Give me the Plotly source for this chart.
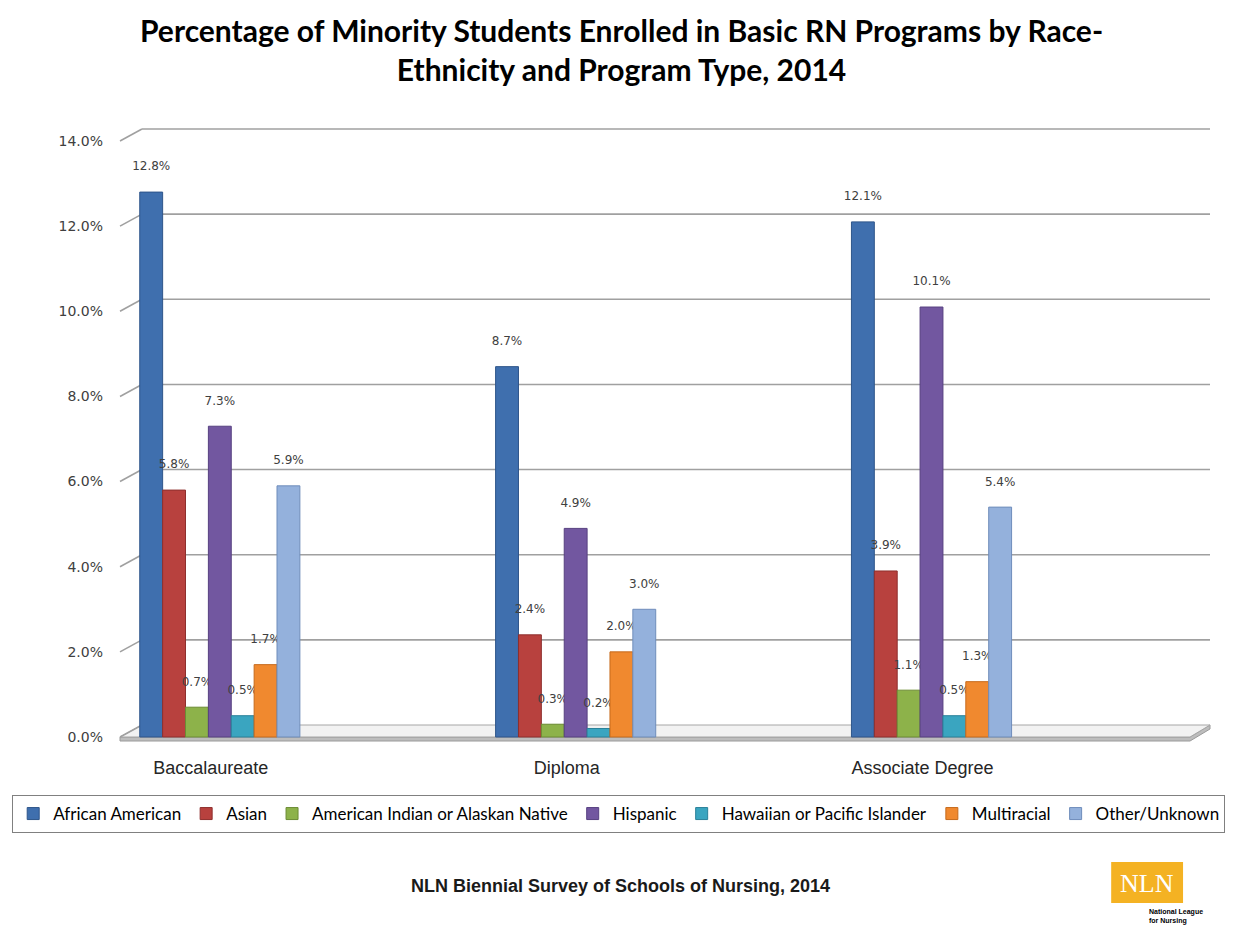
import plotly.graph_objects as go

categories = ["Baccalaureate", "Diploma", "Associate Degree"]
series_names = ["African American", "Asian", "American Indian or Alaskan Native",
                "Hispanic", "Hawaiian or Pacific Islander", "Multiracial", "Other/Unknown"]
african_american = [12.8, 8.7, 12.1]
asian = [5.8, 2.4, 3.9]
american_indian = [0.7, 0.3, 1.1]
hispanic = [7.3, 4.9, 10.1]
hawaiian = [0.5, 0.2, 0.5]
multiracial = [1.7, 2.0, 1.3]
other_unknown = [5.9, 3.0, 5.4]
series_values = [african_american, asian, american_indian, hispanic, hawaiian, multiracial, other_unknown]
colors = ["#3F6FAE", "#B8413E", "#8DB24A", "#7257A0", "#3AA5C0", "#F0892F", "#94B1DC"]
line_colors = ["#2E558A", "#8E2F2D", "#6C8C34", "#574080", "#2A8199", "#C66A1C", "#6F8DBB"]
y_ticks = [0, 2, 4, 6, 8, 10, 12, 14]
y_ticktext = [f"{v:.1f}%" for v in y_ticks]

# layout geometry (pixels)
W, H = 1241, 928
L, R, T, B = 118, 31, 120, 183
pw = W - L - R
ph = H - T - B
px_per_unit = 42.571
xscale = 356.5
x0 = -(218 - L) / xscale
x1 = x0 + pw / xscale
y0 = -(745 - 737) / px_per_unit
y1 = y0 + ph / px_per_unit

def px2paper_x(px):
    return (px - L) / pw

def px2paper_y(py):
    return (H - B - py) / ph

fig = go.Figure()
xs = list(range(len(categories)))
for name, vals, c, lc in zip(series_names, series_values, colors, line_colors):
    fig.add_trace(go.Bar(
        x=xs, y=vals, name=name,
        marker=dict(color=c, line=dict(color=lc, width=1)),
        text=[f"{v:.1f}%<br> " for v in vals],
        textposition="outside",
        textfont=dict(family="DejaVu Sans", size=12, color="#404040"),
        constraintext="none", cliponaxis=False,
    ))

dx = 22 / pw
dy = 12 / px_per_unit
slab = 4 / px_per_unit
shapes = []
# floor slab and floor
shapes.append(dict(type="path", xref="paper", yref="y", layer="below",
                   path=f"M 0,0 L {px2paper_x(1190)},0 L 1,{dy} L 1,{dy - slab} L {px2paper_x(1190)},{-slab} L 0,{-slab} Z",
                   fillcolor="#BDBDBD", line=dict(color="#9A9A9A", width=1)))
shapes.append(dict(type="path", xref="paper", yref="y", layer="below",
                   path=f"M 0,0 L {px2paper_x(1190)},0 L 1,{dy} L {dx},{dy} Z",
                   fillcolor="#F2F2F2", line=dict(color="#A6A6A6", width=1)))
for v in y_ticks:
    shapes.append(dict(type="line", xref="paper", yref="y", layer="below",
                       x0=0, y0=v, x1=dx, y1=v + dy, line=dict(color="#A0A0A0", width=1.6)))
    if v > 0:
        shapes.append(dict(type="line", xref="paper", yref="y", layer="below",
                           x0=dx, y0=v + dy, x1=1, y1=v + dy, line=dict(color="#A0A0A0", width=1.6)))

# logo
shapes.append(dict(type="rect", xref="paper", yref="paper", layer="below",
                   x0=px2paper_x(1111), x1=px2paper_x(1183), y0=px2paper_y(903), y1=px2paper_y(862),
                   fillcolor="#F4B223", line=dict(width=0)))

annotations = [
    dict(text="<b>Percentage of Minority Students Enrolled in Basic RN Programs by Race-<br>Ethnicity and Program Type, 2014</b>",
         xref="paper", yref="paper", x=px2paper_x(620), y=px2paper_y(50), xanchor="center", yanchor="middle",
         showarrow=False, font=dict(family="Lato", size=30, color="#000000")),
    dict(text="<b>NLN Biennial Survey of Schools of Nursing, 2014</b>", xref="paper", yref="paper",
         x=px2paper_x(619), y=px2paper_y(886), xanchor="center", yanchor="middle", showarrow=False,
         font=dict(family="Liberation Sans", size=18, color="#1A1A1A")),
    dict(text="NLN", xref="paper", yref="paper", x=px2paper_x(1147), y=px2paper_y(883),
         xanchor="center", yanchor="middle", showarrow=False,
         font=dict(family="Liberation Serif", size=26, color="#FFFFFF")),
    dict(text="<b>National League</b>", xref="paper", yref="paper", x=px2paper_x(1147), y=px2paper_y(912),
         xanchor="left", yanchor="middle", showarrow=False,
         font=dict(family="Liberation Sans", size=7, color="#000000")),
    dict(text="<b>for Nursing</b>", xref="paper", yref="paper", x=px2paper_x(1147), y=px2paper_y(921),
         xanchor="left", yanchor="middle", showarrow=False,
         font=dict(family="Liberation Sans", size=7, color="#000000")),
]

fig.update_layout(
    width=W, height=H,
    margin=dict(l=L, r=R, t=T, b=B),
    paper_bgcolor="white", plot_bgcolor="rgba(0,0,0,0)",
    barmode="group", bargap=0.55, bargroupgap=0,
    xaxis=dict(range=[x0, x1], tickvals=xs, ticktext=categories, showgrid=False, zeroline=False,
               showline=False, ticks="", ticklabelstandoff=10, ticklabelshift=-9,
               tickfont=dict(family="Liberation Sans", size=18, color="#262626")),
    yaxis=dict(range=[y0, y1], tickvals=y_ticks, ticktext=y_ticktext, showgrid=False, zeroline=False,
               showline=False, ticks="", ticklabelstandoff=16,
               tickfont=dict(family="DejaVu Sans", size=14, color="#404040")),
    legend=dict(orientation="h", x=px2paper_x(10), xanchor="left", y=px2paper_y(795), yanchor="top",
                bordercolor="#808080", borderwidth=1, bgcolor="white",
                font=dict(family="Lato", size=17, color="#000000"), traceorder="normal"),
    shapes=shapes, annotations=annotations,
)

fig.write_html("out.html")
